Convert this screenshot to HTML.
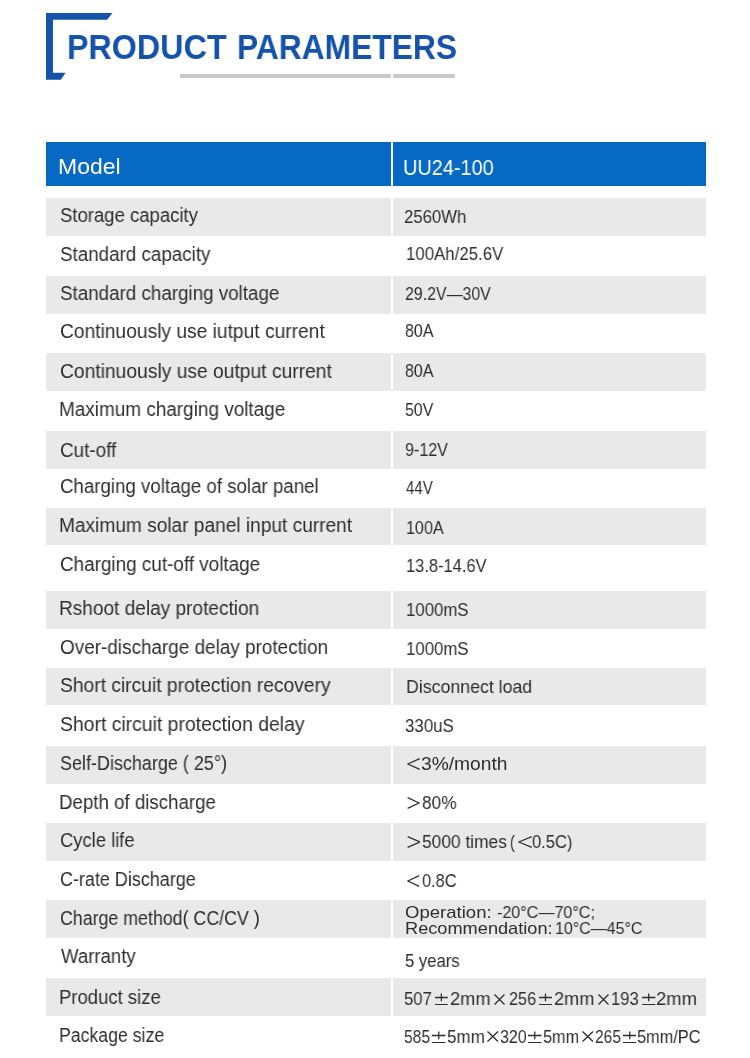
<!DOCTYPE html>
<html><head><meta charset="utf-8"><style>
html,body{margin:0;padding:0;background:#fff;}
body{width:750px;height:1058px;position:relative;overflow:hidden;font-family:"Liberation Sans",sans-serif;}
.r,.t,.g,.b{position:absolute;}
.t{white-space:pre;transform-origin:0 0;will-change:transform;}
</style></head><body>
<svg class="b" style="left:0;top:0" width="750" height="100"><path d="M46,13 H112.5 L107,19.7 H53 V72.7 H65.6 L60.8,79.7 H46 Z" fill="#1553aa"/>
<rect x="180" y="74" width="211" height="4" fill="#c9c9c9"/><rect x="393" y="74" width="62" height="4" fill="#c9c9c9"/></svg>
<div class="r" style="left:46px;top:142px;width:345px;height:44px;background:#066ac4"></div>
<div class="r" style="left:393px;top:142px;width:313px;height:44px;background:#066ac4"></div>
<div class="r" style="left:46px;top:198px;width:345px;height:38px;background:#e9e9e9"></div>
<div class="r" style="left:393px;top:198px;width:313px;height:38px;background:#e9e9e9"></div>
<div class="r" style="left:46px;top:276px;width:345px;height:38px;background:#e9e9e9"></div>
<div class="r" style="left:393px;top:276px;width:313px;height:38px;background:#e9e9e9"></div>
<div class="r" style="left:46px;top:353px;width:345px;height:38px;background:#e9e9e9"></div>
<div class="r" style="left:393px;top:353px;width:313px;height:38px;background:#e9e9e9"></div>
<div class="r" style="left:46px;top:431px;width:345px;height:38px;background:#e9e9e9"></div>
<div class="r" style="left:393px;top:431px;width:313px;height:38px;background:#e9e9e9"></div>
<div class="r" style="left:46px;top:508px;width:345px;height:37px;background:#e9e9e9"></div>
<div class="r" style="left:393px;top:508px;width:313px;height:37px;background:#e9e9e9"></div>
<div class="r" style="left:46px;top:591px;width:345px;height:38px;background:#e9e9e9"></div>
<div class="r" style="left:393px;top:591px;width:313px;height:38px;background:#e9e9e9"></div>
<div class="r" style="left:46px;top:668px;width:345px;height:37px;background:#e9e9e9"></div>
<div class="r" style="left:393px;top:668px;width:313px;height:37px;background:#e9e9e9"></div>
<div class="r" style="left:46px;top:746px;width:345px;height:38px;background:#e9e9e9"></div>
<div class="r" style="left:393px;top:746px;width:313px;height:38px;background:#e9e9e9"></div>
<div class="r" style="left:46px;top:823px;width:345px;height:38px;background:#e9e9e9"></div>
<div class="r" style="left:393px;top:823px;width:313px;height:38px;background:#e9e9e9"></div>
<div class="r" style="left:46px;top:900px;width:345px;height:38px;background:#e9e9e9"></div>
<div class="r" style="left:393px;top:900px;width:313px;height:38px;background:#e9e9e9"></div>
<div class="r" style="left:46px;top:978px;width:345px;height:38px;background:#e9e9e9"></div>
<div class="r" style="left:393px;top:978px;width:313px;height:38px;background:#e9e9e9"></div>
<div class="t" style="left:60.05px;top:206.10px;font-size:19.5px;line-height:19.5px;font-weight:normal;color:#2e2e2e;transform:scaleX(0.9493)">Storage capacity</div>
<div class="t" style="left:60.04px;top:245.10px;font-size:19.5px;line-height:19.5px;font-weight:normal;color:#2e2e2e;transform:scaleX(0.9639)">Standard capacity</div>
<div class="t" style="left:60.04px;top:283.60px;font-size:19.5px;line-height:19.5px;font-weight:normal;color:#2e2e2e;transform:scaleX(0.9637)">Standard charging voltage</div>
<div class="t" style="left:60.02px;top:321.60px;font-size:19.5px;line-height:19.5px;font-weight:normal;color:#2e2e2e;transform:scaleX(0.9847)">Continuously use iutput current</div>
<div class="t" style="left:60.01px;top:361.70px;font-size:19.5px;line-height:19.5px;font-weight:normal;color:#2e2e2e;transform:scaleX(0.9872)">Continuously use output current</div>
<div class="t" style="left:59.06px;top:399.80px;font-size:19.5px;line-height:19.5px;font-weight:normal;color:#2e2e2e;transform:scaleX(0.9709)">Maximum charging voltage</div>
<div class="t" style="left:60.03px;top:440.80px;font-size:19.5px;line-height:19.5px;font-weight:normal;color:#2e2e2e;transform:scaleX(0.9684)">Cut-off</div>
<div class="t" style="left:60.04px;top:477.20px;font-size:19.5px;line-height:19.5px;font-weight:normal;color:#2e2e2e;transform:scaleX(0.9582)">Charging voltage of solar panel</div>
<div class="t" style="left:59.04px;top:515.70px;font-size:19.5px;line-height:19.5px;font-weight:normal;color:#2e2e2e;transform:scaleX(0.9798)">Maximum solar panel input current</div>
<div class="t" style="left:60.03px;top:554.50px;font-size:19.5px;line-height:19.5px;font-weight:normal;color:#2e2e2e;transform:scaleX(0.9683)">Charging cut-off voltage</div>
<div class="t" style="left:59.05px;top:599.10px;font-size:19.5px;line-height:19.5px;font-weight:normal;color:#2e2e2e;transform:scaleX(0.9772)">Rshoot delay protection</div>
<div class="t" style="left:60.03px;top:637.90px;font-size:19.5px;line-height:19.5px;font-weight:normal;color:#2e2e2e;transform:scaleX(0.9701)">Over-discharge delay protection</div>
<div class="t" style="left:60.01px;top:676.00px;font-size:19.5px;line-height:19.5px;font-weight:normal;color:#2e2e2e;transform:scaleX(0.9868)">Short circuit protection recovery</div>
<div class="t" style="left:60.01px;top:715.40px;font-size:19.5px;line-height:19.5px;font-weight:normal;color:#2e2e2e;transform:scaleX(0.9939)">Short circuit protection delay</div>
<div class="t" style="left:60.08px;top:753.70px;font-size:19.5px;line-height:19.5px;font-weight:normal;color:#2e2e2e;transform:scaleX(0.9218)">Self-Discharge ( 25°)</div>
<div class="t" style="left:59.08px;top:793.10px;font-size:19.5px;line-height:19.5px;font-weight:normal;color:#2e2e2e;transform:scaleX(0.9584)">Depth of discharge</div>
<div class="t" style="left:60.06px;top:831.10px;font-size:19.5px;line-height:19.5px;font-weight:normal;color:#2e2e2e;transform:scaleX(0.9429)">Cycle life</div>
<div class="t" style="left:60.08px;top:870.00px;font-size:19.5px;line-height:19.5px;font-weight:normal;color:#2e2e2e;transform:scaleX(0.9212)">C-rate Discharge</div>
<div class="t" style="left:60.09px;top:909.30px;font-size:19.5px;line-height:19.5px;font-weight:normal;color:#2e2e2e;transform:scaleX(0.9120)">Charge method( CC/CV )</div>
<div class="t" style="left:61.00px;top:947.20px;font-size:19.5px;line-height:19.5px;font-weight:normal;color:#2e2e2e;transform:scaleX(0.9538)">Warranty</div>
<div class="t" style="left:59.10px;top:987.50px;font-size:19.5px;line-height:19.5px;font-weight:normal;color:#2e2e2e;transform:scaleX(0.9486)">Product size</div>
<div class="t" style="left:59.19px;top:1026.10px;font-size:19.5px;line-height:19.5px;font-weight:normal;color:#2e2e2e;transform:scaleX(0.9071)">Package size</div>
<div class="t" style="left:403.92px;top:206.80px;font-size:19px;line-height:19px;font-weight:normal;color:#2e2e2e;transform:scaleX(0.8797)">2560Wh</div>
<div class="t" style="left:405.61px;top:244.00px;font-size:19px;line-height:19px;font-weight:normal;color:#2e2e2e;transform:scaleX(0.8853)">100Ah/25.6V</div>
<div class="t" style="left:405.16px;top:284.30px;font-size:19px;line-height:19px;font-weight:normal;color:#2e2e2e;transform:scaleX(0.8366)">29.2V—30V</div>
<div class="t" style="left:405.16px;top:321.00px;font-size:19px;line-height:19px;font-weight:normal;color:#2e2e2e;transform:scaleX(0.8394)">80A</div>
<div class="t" style="left:405.16px;top:361.20px;font-size:19px;line-height:19px;font-weight:normal;color:#2e2e2e;transform:scaleX(0.8394)">80A</div>
<div class="t" style="left:405.17px;top:400.20px;font-size:19px;line-height:19px;font-weight:normal;color:#2e2e2e;transform:scaleX(0.8333)">50V</div>
<div class="t" style="left:405.15px;top:440.30px;font-size:19px;line-height:19px;font-weight:normal;color:#2e2e2e;transform:scaleX(0.8460)">9-12V</div>
<div class="t" style="left:406.00px;top:477.50px;font-size:19px;line-height:19px;font-weight:normal;color:#2e2e2e;transform:scaleX(0.7912)">44V</div>
<div class="t" style="left:405.65px;top:518.00px;font-size:19px;line-height:19px;font-weight:normal;color:#2e2e2e;transform:scaleX(0.8488)">100A</div>
<div class="t" style="left:405.63px;top:555.90px;font-size:19px;line-height:19px;font-weight:normal;color:#2e2e2e;transform:scaleX(0.8663)">13.8-14.6V</div>
<div class="t" style="left:405.62px;top:599.70px;font-size:19px;line-height:19px;font-weight:normal;color:#2e2e2e;transform:scaleX(0.8841)">1000mS</div>
<div class="t" style="left:405.62px;top:638.90px;font-size:19px;line-height:19px;font-weight:normal;color:#2e2e2e;transform:scaleX(0.8841)">1000mS</div>
<div class="t" style="left:405.87px;top:676.50px;font-size:19px;line-height:19px;font-weight:normal;color:#2e2e2e;transform:scaleX(0.9338)">Disconnect load</div>
<div class="t" style="left:405.11px;top:715.60px;font-size:19px;line-height:19px;font-weight:normal;color:#2e2e2e;transform:scaleX(0.8887)">330uS</div>
<div class="t" style="left:420.99px;top:753.50px;font-size:19px;line-height:19px;font-weight:normal;color:#2e2e2e;transform:scaleX(1.0107)">3%/month</div>
<div class="t" style="left:421.79px;top:792.90px;font-size:19px;line-height:19px;font-weight:normal;color:#2e2e2e;transform:scaleX(0.9081)">80%</div>
<div class="t" style="left:421.89px;top:831.80px;font-size:19px;line-height:19px;font-weight:normal;color:#2e2e2e;transform:scaleX(0.9130)">5000 times</div>
<div class="t" style="left:510.14px;top:831.80px;font-size:19px;line-height:19px;font-weight:normal;color:#2e2e2e;transform:scaleX(0.7600)">(</div>
<div class="t" style="left:532.33px;top:831.80px;font-size:19px;line-height:19px;font-weight:normal;color:#2e2e2e;transform:scaleX(0.8689)">0.5C)</div>
<div class="t" style="left:421.54px;top:870.70px;font-size:19px;line-height:19px;font-weight:normal;color:#2e2e2e;transform:scaleX(0.8605)">0.8C</div>
<div class="t" style="left:405.12px;top:950.70px;font-size:19px;line-height:19px;font-weight:normal;color:#2e2e2e;transform:scaleX(0.8770)">5 years</div>
<div class="t" style="left:404.42px;top:989.20px;font-size:19px;line-height:19px;font-weight:normal;color:#2e2e2e;transform:scaleX(0.8767)">507</div>
<div class="t" style="left:450.24px;top:989.20px;font-size:19px;line-height:19px;font-weight:normal;color:#2e2e2e;transform:scaleX(0.9600)">2mm</div>
<div class="t" style="left:509.05px;top:989.20px;font-size:19px;line-height:19px;font-weight:normal;color:#2e2e2e;transform:scaleX(0.8533)">256</div>
<div class="t" style="left:553.54px;top:989.20px;font-size:19px;line-height:19px;font-weight:normal;color:#2e2e2e;transform:scaleX(0.9550)">2mm</div>
<div class="t" style="left:611.43px;top:989.20px;font-size:19px;line-height:19px;font-weight:normal;color:#2e2e2e;transform:scaleX(0.8733)">193</div>
<div class="t" style="left:656.33px;top:989.20px;font-size:19px;line-height:19px;font-weight:normal;color:#2e2e2e;transform:scaleX(0.9700)">2mm</div>
<div class="t" style="left:404.48px;top:1027.00px;font-size:19px;line-height:19px;font-weight:normal;color:#2e2e2e;transform:scaleX(0.8200)">585</div>
<div class="t" style="left:446.50px;top:1027.00px;font-size:19px;line-height:19px;font-weight:normal;color:#2e2e2e;transform:scaleX(0.8950)">5mm</div>
<div class="t" style="left:499.86px;top:1027.00px;font-size:19px;line-height:19px;font-weight:normal;color:#2e2e2e;transform:scaleX(0.8400)">320</div>
<div class="t" style="left:542.64px;top:1027.00px;font-size:19px;line-height:19px;font-weight:normal;color:#2e2e2e;transform:scaleX(0.8550)">5mm</div>
<div class="t" style="left:595.08px;top:1027.00px;font-size:19px;line-height:19px;font-weight:normal;color:#2e2e2e;transform:scaleX(0.8167)">265</div>
<div class="t" style="left:636.64px;top:1027.00px;font-size:19px;line-height:19px;font-weight:normal;color:#2e2e2e;transform:scaleX(0.8583)">5mm/PC</div>
<div class="t" style="left:404.91px;top:903.50px;font-size:17px;line-height:17px;font-weight:normal;color:#2e2e2e;transform:scaleX(1.0909)">Operation:</div>
<div class="t" style="left:497.35px;top:903.50px;font-size:17px;line-height:17px;font-weight:normal;color:#2e2e2e;transform:scaleX(0.9475)">-20°C—70°C;</div>
<div class="t" style="left:404.93px;top:920.00px;font-size:17px;line-height:17px;font-weight:normal;color:#2e2e2e;transform:scaleX(1.0699)">Recommendation:</div>
<div class="t" style="left:555.16px;top:920.00px;font-size:17px;line-height:17px;font-weight:normal;color:#2e2e2e;transform:scaleX(0.9396)">10°C—45°C</div>
<div class="t" style="left:67.16px;top:28.80px;font-size:35px;line-height:35px;font-weight:bold;color:#1553aa;transform:scaleX(0.9222)">PRODUCT</div>
<div class="t" style="left:237.18px;top:28.80px;font-size:35px;line-height:35px;font-weight:bold;color:#1553aa;transform:scaleX(0.9079)">PARAMETERS</div>
<div class="t" style="left:58.41px;top:156.20px;font-size:22px;line-height:22px;font-weight:normal;color:#ffffff;transform:scaleX(1.0439)">Model</div>
<div class="t" style="left:403.49px;top:156.80px;font-size:22px;line-height:22px;font-weight:normal;color:#ffffff;transform:scaleX(0.9051)">UU24-100</div>
<svg class="g" style="left:407.20px;top:757.50px" width="13.30" height="12.00"><path d="M12.70,0.6 L0.8,6.00 L12.70,11.40" fill="none" stroke="#2e2e2e" stroke-width="1.3"/></svg>
<svg class="g" style="left:407.20px;top:796.90px" width="13.00" height="12.00"><path d="M0.6,0.6 L12.20,6.00 L0.6,11.40" fill="none" stroke="#2e2e2e" stroke-width="1.3"/></svg>
<svg class="g" style="left:406.70px;top:835.80px" width="13.70" height="12.00"><path d="M0.6,0.6 L12.90,6.00 L0.6,11.40" fill="none" stroke="#2e2e2e" stroke-width="1.3"/></svg>
<svg class="g" style="left:517.60px;top:835.80px" width="14.40" height="12.00"><path d="M13.80,0.6 L0.8,6.00 L13.80,11.40" fill="none" stroke="#2e2e2e" stroke-width="1.3"/></svg>
<svg class="g" style="left:407.00px;top:874.70px" width="12.80" height="12.00"><path d="M12.20,0.6 L0.8,6.00 L12.20,11.40" fill="none" stroke="#2e2e2e" stroke-width="1.3"/></svg>
<svg class="g" style="left:435.40px;top:992.80px" width="12.70" height="12.40"><path d="M0,4.5 H12.70 M6.35,0.4 V8.3 M0,11.7 H12.70" fill="none" stroke="#2e2e2e" stroke-width="1.3"/></svg>
<svg class="g" style="left:494.40px;top:993.60px" width="11.00" height="11.00"><path d="M0.5,0.5 L10.50,10.50 M10.50,0.5 L0.5,10.50" fill="none" stroke="#2e2e2e" stroke-width="1.3"/></svg>
<svg class="g" style="left:538.70px;top:992.80px" width="13.00" height="12.40"><path d="M0,4.5 H13.00 M6.50,0.4 V8.3 M0,11.7 H13.00" fill="none" stroke="#2e2e2e" stroke-width="1.3"/></svg>
<svg class="g" style="left:597.50px;top:993.60px" width="11.00" height="11.00"><path d="M0.5,0.5 L10.50,10.50 M10.50,0.5 L0.5,10.50" fill="none" stroke="#2e2e2e" stroke-width="1.3"/></svg>
<svg class="g" style="left:642.20px;top:992.80px" width="13.40" height="12.40"><path d="M0,4.5 H13.40 M6.70,0.4 V8.3 M0,11.7 H13.40" fill="none" stroke="#2e2e2e" stroke-width="1.3"/></svg>
<svg class="g" style="left:432.40px;top:1030.60px" width="13.50" height="12.40"><path d="M0,4.5 H13.50 M6.75,0.4 V8.3 M0,11.7 H13.50" fill="none" stroke="#2e2e2e" stroke-width="1.3"/></svg>
<svg class="g" style="left:487.00px;top:1031.40px" width="11.50" height="11.00"><path d="M0.5,0.5 L11.00,10.50 M11.00,0.5 L0.5,10.50" fill="none" stroke="#2e2e2e" stroke-width="1.3"/></svg>
<svg class="g" style="left:528.00px;top:1030.60px" width="13.50" height="12.40"><path d="M0,4.5 H13.50 M6.75,0.4 V8.3 M0,11.7 H13.50" fill="none" stroke="#2e2e2e" stroke-width="1.3"/></svg>
<svg class="g" style="left:581.50px;top:1031.40px" width="11.50" height="11.00"><path d="M0.5,0.5 L11.00,10.50 M11.00,0.5 L0.5,10.50" fill="none" stroke="#2e2e2e" stroke-width="1.3"/></svg>
<svg class="g" style="left:622.50px;top:1030.60px" width="13.50" height="12.40"><path d="M0,4.5 H13.50 M6.75,0.4 V8.3 M0,11.7 H13.50" fill="none" stroke="#2e2e2e" stroke-width="1.3"/></svg>
</body></html>
